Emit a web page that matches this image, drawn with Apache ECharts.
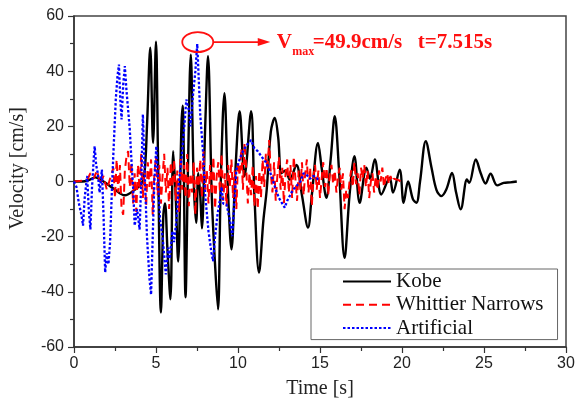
<!DOCTYPE html>
<html><head><meta charset="utf-8">
<script src="https://cdn.jsdelivr.net/npm/echarts@6/dist/echarts.min.js"></script>
<style>html,body{margin:0;padding:0;background:#fff}#c{width:576px;height:401px}</style>
</head><body><div id="c"></div>
<script>
// time [s], velocity [cm/s]
const kobe = [[0,0],[0.5,0],[0.9,0.5],[1.3,1.5],[1.8,0],[2.4,-2.5],[3.1,-5],[3.7,-3],[4.1,-1],[4.3,3],[4.45,20],[4.65,48.5],[4.82,14],[5.0,50.7],[5.12,10],[5.3,-47.5],[5.45,-12],[5.55,-8],[5.7,-25],[5.88,-42.7],[6.05,11],[6.2,-5],[6.35,-29],[6.55,20],[6.63,27.5],[6.8,-42],[6.95,5],[7.12,46],[7.3,0],[7.45,-15],[7.58,3],[7.7,-5],[7.8,-17],[8.0,20],[8.17,45.4],[8.4,-5],[8.6,-30],[8.78,-46.4],[8.95,0],[9.17,32],[9.4,-5],[9.6,-24.6],[9.85,5],[10.1,25.5],[10.4,2],[10.8,25.5],[11.0,-5],[11.28,-33],[11.55,-14],[11.75,-3],[12.0,18],[12.24,23],[12.45,16],[12.65,3],[12.9,4],[13.15,0.7],[13.56,6],[13.9,-5],[14.27,-16.7],[14.5,-5],[14.88,14],[15.1,5],[15.39,-5.9],[15.65,8],[15.9,23.7],[16.15,5],[16.5,-27.7],[16.8,-5],[17.1,9.2],[17.42,-7.7],[17.83,5],[18.05,1],[18.34,8],[18.74,-4.7],[19.25,1.3],[19.45,-4],[19.86,4.3],[20.1,-7.7],[20.37,0],[20.67,-6.5],[20.88,-7.7],[21.1,0],[21.45,14.6],[21.8,5],[22.1,-3],[22.4,-5.3],[22.7,-2.9],[23.05,3.1],[23.3,-4],[23.58,-10.1],[23.96,0.7],[24.1,-0.5],[24.5,8],[24.8,3],[25.1,-0.7],[25.4,2.8],[25.8,-1.4],[26.2,-0.5],[26.6,-0.3],[27.0,0]];
const whittier = [[0,0],[0.8,0.5],[1.0,3],[1.2,1],[1.4,4],[1.6,-1],[1.8,2],[2.0,-3],[2.2,1],[2.4,5],[2.5,-6],[2.6,8],[2.7,-4],[2.8,6],[2.9,-10],[3.0,-12],[3.1,4],[3.2,9],[3.3,11],[3.4,-2],[3.5,7],[3.6,-8],[3.7,3],[3.8,-11],[3.9,6],[4.0,-3],[4.1,10],[4.2,-6],[4.3,4],[4.4,-9],[4.5,7],[4.6,-2],[4.7,8],[4.8,-12],[4.9,3],[5.0,9],[5.1,-5],[5.2,6],[5.3,-8],[5.4,2],[5.5,10],[5.6,-4],[5.7,5],[5.8,-10],[5.9,7],[6.0,-2],[6.1,8],[6.2,-7],[6.3,4],[6.4,-11],[6.5,9],[6.6,-3],[6.7,6],[6.8,-6],[6.9,10],[7.0,-9],[7.1,3],[7.2,-4],[7.3,7],[7.4,-12],[7.5,5],[7.6,-2],[7.7,8],[7.8,-6],[7.9,11],[8.0,-3],[8.1,4],[8.2,-8],[8.3,6],[8.4,-5],[8.5,9],[8.6,-10],[8.7,2],[8.8,7],[8.9,-4],[9.0,10],[9.1,-7],[9.2,3],[9.3,-9],[9.4,6],[9.5,-2],[9.6,8],[9.7,-6],[9.8,4],[9.9,-10],[10.0,7],[10.1,2],[10.2,12],[10.3,-3],[10.4,14],[10.5,5],[10.6,-8],[10.7,3],[10.8,-5],[10.9,6],[11.0,-9],[11.1,2],[11.2,-10],[11.3,4],[11.4,-6],[11.5,8],[11.6,-2],[11.7,10],[11.8,4],[11.9,15],[12.0,3],[12.1,-4],[12.2,7],[12.3,-7],[12.4,2],[12.5,9],[12.6,-3],[12.7,5],[12.8,-8],[12.9,3],[13.0,8],[13.1,-4],[13.2,6],[13.3,-6],[13.4,9],[13.5,1],[13.6,-7],[13.7,4],[13.8,-3],[13.9,7],[14.0,-5],[14.1,3],[14.2,8],[14.3,-4],[14.4,5],[14.5,-9],[14.6,2],[14.7,6],[14.8,-3],[14.9,4],[15.0,-6],[15.1,1],[15.2,7],[15.3,-2],[15.4,5],[15.5,-5],[15.6,3],[15.7,6],[15.8,-1],[15.9,4],[16.0,-4],[16.1,2],[16.2,5],[16.3,-3],[16.4,3],[16.5,-10],[16.6,-3],[16.7,-6],[16.8,0],[16.9,4],[17.0,-2],[17.1,7],[17.2,-1],[17.3,3],[17.4,-5],[17.5,5],[17.6,1],[17.7,6],[17.8,-2],[17.9,4],[18.0,-6],[18.1,0],[18.2,3],[18.3,-4],[18.4,2],[18.5,-3],[18.6,4],[18.7,0],[18.8,5],[18.9,-2],[19.0,1],[19.1,3],[19.2,-1],[19.3,2],[19.4,0],[19.5,1],[19.6,0.5],[19.8,0.5],[19.9,0]];
const artificial = [[0,0],[0.15,-2],[0.3,-8],[0.45,-12],[0.55,-16],[0.65,-6],[0.8,2],[0.9,-10],[1.0,-17.4],[1.1,-2],[1.2,8],[1.26,12.8],[1.35,6],[1.45,3],[1.56,-4],[1.7,4.3],[1.8,-12],[1.9,-33],[2.0,-26],[2.1,-30],[2.2,-22],[2.3,-5],[2.4,10],[2.55,30],[2.65,38],[2.74,42.4],[2.82,30],[2.9,22.5],[3.0,35],[3.1,41.8],[3.2,33],[3.3,26],[3.4,19],[3.5,8],[3.6,-1.7],[3.7,-16],[3.85,-10],[4.0,-17.4],[4.1,0],[4.2,24.3],[4.3,5],[4.45,-20],[4.6,-35],[4.7,-41],[4.8,-20],[4.9,0],[5.02,12.8],[5.1,3],[5.25,-14],[5.4,-20],[5.6,-33.7],[5.75,-24],[5.84,-28],[6.0,-18],[6.1,-22],[6.25,-13.8],[6.4,0],[6.55,8],[6.7,18],[6.85,29.7],[7.0,26],[7.1,20],[7.25,31],[7.4,40],[7.515,49.9],[7.6,38],[7.7,24],[7.87,10.4],[8.0,-5],[8.2,-18],[8.38,-25.8],[8.48,-28.9],[8.6,-20],[8.75,-12],[8.9,-6.5],[9.0,-2],[9.1,-8],[9.3,-8.3],[9.5,-13.8],[9.65,-19.8],[9.75,-10],[9.9,4.3],[10.1,8],[10.3,11],[10.5,13],[10.8,15],[11.0,12],[11.2,11],[11.5,8.5],[11.7,7],[11.9,4.3],[12.1,1],[12.3,-2.9],[12.5,-6],[12.7,-8],[12.85,-9.5],[13.0,-7],[13.15,-5.3],[13.35,-3],[13.56,-1.7],[13.8,0],[14.0,3],[14.17,2.5],[14.4,1],[14.6,2],[14.8,1.3],[14.95,0]];
const seriesNames = ['Kobe','Whittier Narrows','Artificial'];
const xRange = [0, 30, 5];
const yRange = [-60, 60, 20];
const peak = [7.515, 49.9];
const peakLabel = ['V', 'max', '=49.9cm/s', 't=7.515s'];

const chart = echarts.init(document.getElementById('c'), null, {renderer:'canvas'});
const axisCommon = {
  axisLine:{show:true,onZero:false,lineStyle:{color:'#333',width:1.5}},
  axisTick:{show:true,inside:false,length:6,lineStyle:{color:'#333',width:1.2}},
  minorTick:{show:true,splitNumber:2,length:4,lineStyle:{color:'#333',width:1.2}},
  splitLine:{show:false},
  axisLabel:{color:'#222',fontFamily:'Liberation Sans',fontSize:16},
  nameTextStyle:{color:'#222',fontFamily:'Liberation Serif',fontSize:20}
};
chart.setOption({
  animation:false,
  backgroundColor:'#fff',
  grid:{left:74,right:10,top:16,bottom:54,show:true,borderColor:'#444',borderWidth:1.5,containLabel:false,outerBoundsMode:'none'},
  xAxis:Object.assign({},axisCommon,{type:'value',min:xRange[0],max:xRange[1],interval:xRange[2],
    name:'Time [s]',nameLocation:'middle',nameGap:32,
    axisLabel:Object.assign({},axisCommon.axisLabel,{margin:9})}),
  yAxis:Object.assign({},axisCommon,{type:'value',min:yRange[0],max:yRange[1],interval:yRange[2],
    name:'Velocity [cm/s]',nameLocation:'middle',nameGap:46,
    nameTextStyle:Object.assign({},axisCommon.nameTextStyle,{padding:[0,0,0,26]}),
    axisLabel:Object.assign({},axisCommon.axisLabel,{margin:10})}),
  legend:{orient:'vertical',left:311,top:269,padding:[2,14,1,31],itemGap:2.3,itemWidth:48,itemHeight:14,
    borderColor:'#666',borderWidth:1,backgroundColor:'#fff',
    itemStyle:{opacity:0},
    textStyle:{fontFamily:'Liberation Serif',fontSize:21,color:'#111',lineHeight:21},
    data:seriesNames},
  series:[
    {name:seriesNames[0],type:'line',data:kobe,symbol:'none',smooth:0.35,lineStyle:{color:'#000',width:2.4},itemStyle:{color:'#000'},z:2},
    {name:seriesNames[1],type:'line',data:whittier,symbol:'none',lineStyle:{color:'#ff0000',width:2,type:[8,5]},itemStyle:{color:'#ff0000'},z:3},
    {name:seriesNames[2],type:'line',data:artificial,symbol:'none',lineStyle:{color:'#0000ff',width:2.3,type:[2.5,2]},itemStyle:{color:'#0000ff'},z:4}
  ]
});
const p = chart.convertToPixel({gridIndex:0}, peak);
const cx = p[0]+0.5, cy = p[1]-1.8;
const red = '#ff1010';
chart.setOption({graphic:[
  {type:'ellipse',shape:{cx:cx,cy:cy,rx:15.5,ry:10},style:{fill:null,stroke:red,lineWidth:1.8},z:100},
  {type:'line',shape:{x1:cx+15.5,y1:cy,x2:cx+62,y2:cy},style:{stroke:red,lineWidth:1.8},z:100},
  {type:'polygon',shape:{points:[[cx+72.5,cy],[cx+60,cy-4],[cx+60,cy+4]]},style:{fill:red},z:100},
  {type:'text',x:cx+79,y:cy+0.5,style:{text:peakLabel[0],fill:red,font:'bold 21px "Liberation Serif"',verticalAlign:'middle'},z:100},
  {type:'text',x:cx+94.5,y:cy+10,style:{text:peakLabel[1],fill:red,font:'bold 12px "Liberation Serif"',verticalAlign:'middle'},z:100},
  {type:'text',x:cx+115,y:cy+0.5,style:{text:peakLabel[2],fill:red,font:'bold 21px "Liberation Serif"',verticalAlign:'middle'},z:100},
  {type:'text',x:cx+220,y:cy+0.5,style:{text:peakLabel[3],fill:red,font:'bold 21px "Liberation Serif"',verticalAlign:'middle'},z:100}
]});
</script></body></html>
